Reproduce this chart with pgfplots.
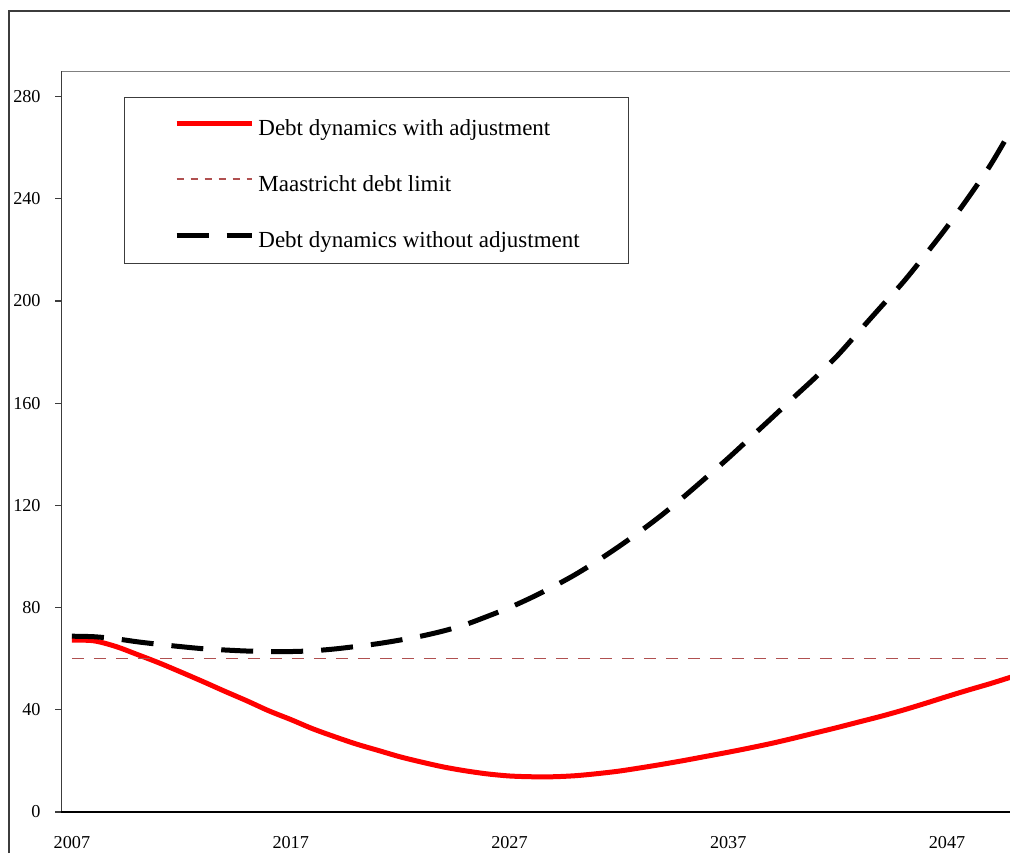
\documentclass[border=0pt]{standalone}
\usepackage{fontspec}
\setmainfont{Liberation Serif}
\usepackage{pgfplots}
\pgfplotsset{compat=1.18}
\usepackage{pgfplotstable}

\definecolor{limitred}{RGB}{176,80,80}
\definecolor{frame}{RGB}{60,60,60}

% debt ratios, % of GDP
\pgfplotstableread{
year adj noadj limit
2007 67.3 68.8 60
2008 67.0 68.6 60
2009 64.8 67.8 60
2010 61.6 66.6 60
2011 58.3 65.6 60
2012 54.7 64.7 60
2013 51.0 63.9 60
2014 47.2 63.4 60
2015 43.5 63.0 60
2016 39.6 62.8 60
2017 36.2 62.8 60
2018 32.6 63.1 60
2019 29.5 63.8 60
2020 26.6 64.8 60
2021 24.1 65.9 60
2022 21.6 67.3 60
2023 19.5 68.9 60
2024 17.6 70.9 60
2025 16.1 73.4 60
2026 14.9 76.6 60
2027 14.1 80.0 60
2028 13.8 83.9 60
2029 13.8 88.2 60
2030 14.2 92.9 60
2031 15.0 98.2 60
2032 16.0 103.9 60
2033 17.3 110.0 60
2034 18.7 116.5 60
2035 20.2 123.6 60
2036 21.8 131.0 60
2037 23.4 138.5 60
2038 25.1 146.4 60
2039 26.9 154.3 60
2040 28.9 162.3 60
2041 31.0 170.2 60
2042 33.1 178.7 60
2043 35.3 188.3 60
2044 37.5 197.9 60
2045 39.9 207.4 60
2046 42.5 218.0 60
2047 45.2 229.0 60
2048 47.8 240.8 60
2049 50.3 253.4 60
2050 53.0 268.0 60
}\debt

\begin{document}
\begin{tikzpicture}
\path[use as bounding box] (0,0) rectangle (505pt,426.5pt);
% outer chart frame
\draw[frame, line width=1pt] (4.5pt,0pt) -- (4.5pt,421pt) -- (505pt,421pt);

\begin{axis}[
  scale only axis,
  width=474.5pt, height=370.5pt,
  at={(30.5pt,20.5pt)}, anchor=south west,
  xmin=2006.5, xmax=2049.88,
  ymin=0, ymax=290,
  axis line style={draw=none},
  xtick={2007,2017,2027,2037,2047},
  xticklabels={2007,2017,2027,2037,2047},
  ytick={0,40,...,280},
  x tick style={draw=none},
  y tick style={frame, line width=0.6pt},
  tick align=outside,
  major tick length=3pt,
  ticks=both, xtick pos=bottom, ytick pos=left,
  /pgf/number format/assume math mode=true,
  tick label style={font=\fontsize{9.1}{10}\selectfont},
  yticklabel style={anchor=east, inner sep=0pt, xshift=-7pt},
  xticklabel style={anchor=north, inner sep=0pt, yshift=-9pt},
  legend cell align=left,
  legend image code/.code={
    \path (0pt,0pt);
    \draw[#1] (2.2pt,0.8pt) -- (39.9pt,0.8pt);},
  legend style={
    at={(0.0664,0.9649)}, anchor=north west,
    draw=frame, line width=0.6pt, fill=white,
    inner xsep=22.5pt, inner ysep=5.7pt, row sep=12.4pt,
    font=\fontsize{11.5}{13}\selectfont,
    nodes={inner xsep=2pt, inner ysep=0pt, text height=13.1pt, text depth=2.5pt}},
]
\addplot[red, line width=2.5pt, smooth] table[x=year, y=adj] {\debt};
\addlegendentry{Debt dynamics with adjustment}
\addplot[limitred, line width=0.75pt, dash pattern=on 6pt off 5pt,
  legend image post style={dash pattern=on 3.5pt off 3.5pt}]
  table[x=year, y=limit] {\debt};
\addlegendentry{Maastricht debt limit}
\addplot[black, line width=2.5pt, smooth, dash pattern=on 16pt off 9pt] table[x=year, y=noadj] {\debt};
\addlegendentry{Debt dynamics without adjustment}

\draw[gray, line width=1pt] (rel axis cs:0,1) -- (rel axis cs:1,1);
\draw[frame, line width=0.8pt] (rel axis cs:0,0) -- (rel axis cs:0,1);
\draw[black, line width=0.8pt] (rel axis cs:0,0) -- (rel axis cs:1,0);
\end{axis}
\end{tikzpicture}
\end{document}
